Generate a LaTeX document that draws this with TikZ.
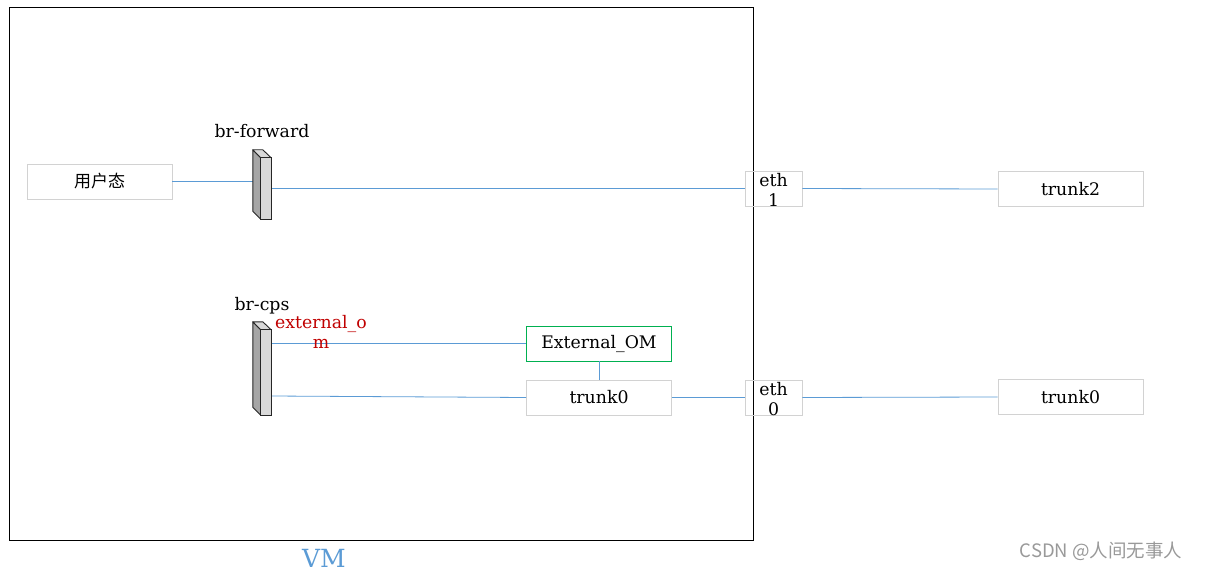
\documentclass[tikz,border=0pt]{standalone}
\usepackage{fontspec}
\setmainfont{DejaVu Serif}
\newfontfamily\cjkfont{Noto Sans CJK SC}
\usetikzlibrary{calc}
\definecolor{linkcolor}{RGB}{91,155,213}
\definecolor{boxcolor}{RGB}{210,210,210}
\definecolor{omgreen}{RGB}{0,176,80}
\definecolor{portred}{RGB}{192,0,0}
\definecolor{slabfront}{RGB}{217,217,217}
\definecolor{slabside}{RGB}{166,166,166}

\begin{document}
\begin{tikzpicture}[x=1pt,y=-1pt,
    txt/.style={font=\fontsize{17.3}{20}\selectfont, inner sep=0pt},
    graybox/.style={draw=boxcolor, line width=0.8pt, minimum width=145, minimum height=35, inner sep=0pt, txt},
    ethbox/.style={draw=boxcolor, line width=0.8pt, minimum width=57, minimum height=35, inner sep=0pt},
    link/.style={draw=linkcolor, line width=0.8pt}]

  \useasboundingbox (0,0) rectangle (1207,572);

  % --- The VM frame and its caption ---
  \draw[black, line width=0.8pt] (9,7) rectangle (753,540);
  \node[font=\fontsize{25}{28}\selectfont, text=linkcolor, inner sep=0pt] (vmlabel) at (324,558) {VM};

  % --- Boxes ---
  \node[graybox, font=\cjkfont\fontsize{17}{20}\selectfont] (user) at (99.5,181.5) {用户态};
  \node[graybox] (trunk2) at (1070.5,189) {trunk2};
  \node[graybox, draw=omgreen] (extom) at (599,343.5) {External\_OM};
  \node[graybox] (trunk0) at (599,397.5) {trunk0};
  \node[graybox] (trunk0r) at (1070.5,397) {trunk0};

  % --- eth ports sit on the VM border (box and text kept apart) ---
  \node[ethbox] (eth1) at (773.5,188.5) {};
  \node[txt, align=center] (eth1txt) at (773.5,190) {eth\\1};
  \node[ethbox] (eth0) at (773.5,397.5) {};
  \node[txt, align=center] (eth0txt) at (773.5,399) {eth\\0};

  % --- Bridge front faces (the 3D sides follow below) ---
  \coordinate (fwdpos) at (266,188.5);
  \coordinate (cpspos) at (266,372.5);
  \node[minimum width=10, minimum height=61, inner sep=0pt] (fwd) at (fwdpos) {};
  \node[minimum width=10, minimum height=85, inner sep=0pt] (cps) at (cpspos) {};
  \coordinate (cpslow) at (271,396);

  % --- Connectors ---
  \draw[link] (user.east) -- (user.east -| fwd.west);
  \draw[link] (fwd.east) -- (eth1.west);
  \draw[link] (eth1.east) -- (trunk2.west);
  \draw[link] (extom.west -| cps.east) -- (extom.west);
  \draw[link] (extom.south) -- (trunk0.north);
  \draw[link] (cpslow) -- (trunk0.west);
  \draw[link] (trunk0.east) -- (eth0.west);
  \draw[link] (eth0.east) -- (trunk0r.west);

  % --- Bridges: side, top and front faces ---
  \foreach \br in {fwd,cps} {
    \fill[slabside, draw=black!85, line width=0.9pt, line join=round]
      (\br.north west) -- ++(-8,-8) -- ($(\br.south west)+(-8,-8)$) -- (\br.south west) -- cycle;
    \fill[slabfront, draw=black!85, line width=0.9pt, line join=round]
      (\br.north west) -- ++(-8,-8) -- ++(10,0) -- (\br.north east) -- cycle;
    \draw[black!85, fill=slabfront, line width=0.9pt] (\br.north west) rectangle (\br.south east);
  }

  % --- Labels ---
  \node[txt] (fwdlabel) at (262,131) {br-forward};
  \node[txt] (cpslabel) at (262,306) {br-cps};
  \node[txt, text=portred, align=center] (portlabel) at (321,332) {external\_o\\m};

  % --- Watermark ---
  \node[font=\cjkfont\fontsize{18.5}{22}\selectfont, text=black!40, inner sep=0pt] (mark) at (1101,551) {CSDN @人间无事人};

\end{tikzpicture}
\end{document}
